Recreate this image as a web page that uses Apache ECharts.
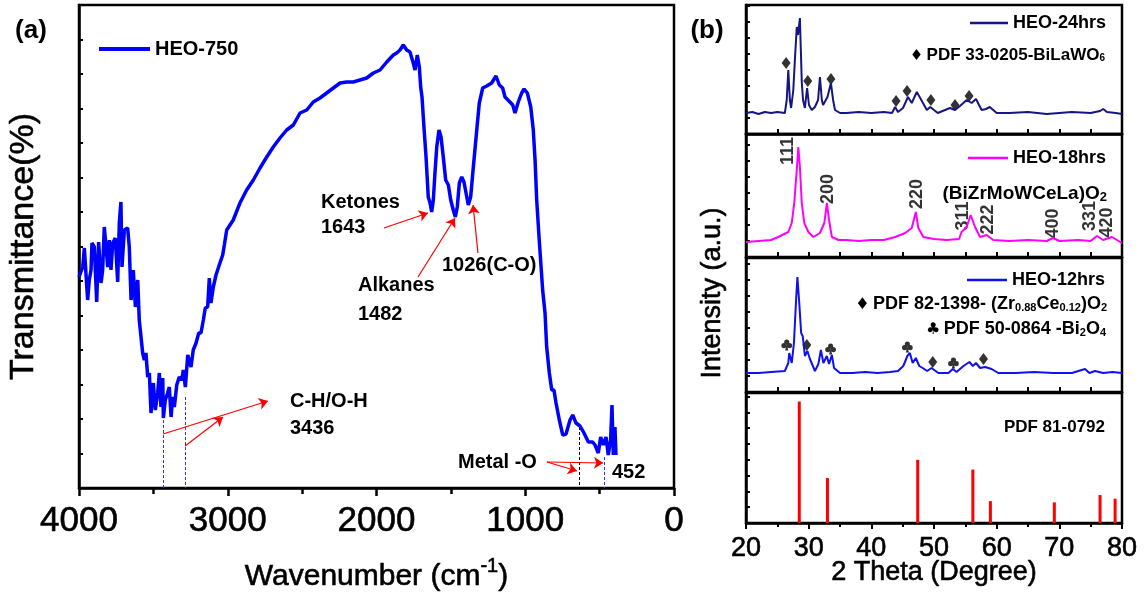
<!DOCTYPE html>
<html><head><meta charset="utf-8">
<script src="https://cdn.jsdelivr.net/npm/echarts@6/dist/echarts.min.js"></script>
<style>html,body{margin:0;padding:0;background:#fff}#c{width:1147px;height:596px}</style>
</head><body><div id="c"></div>
<script>
// ---------- Panel (a): FTIR ----------
const ftirWavenumber = [4000,3993,3975,3964,3953,3942,3931,3919,3913,3897,3881,3868,3852,3841,3830,3818,3807,3796,3785,3773,3756,3740,3729,3718,3711,3695,3673,3662,3650,3635,3621,3605,3595,3583,3572,3561,3550,3538,3527,3516,3500,3487,3471,3460,3449,3437,3433,3420,3404,3393,3381,3370,3359,3343,3326,3308,3299,3285,3269,3247,3232,3213,3195,3180,3164,3151,3135,3124,3113,3097,3079,3057,3034,3023,3007,2963,2918,2873,2828,2783,2738,2694,2649,2604,2559,2514,2469,2425,2380,2335,2290,2245,2200,2156,2111,2066,2021,1976,1931,1887,1864,1842,1820,1797,1775,1753,1741,1726,1712,1703,1694,1681,1667,1652,1640,1629,1618,1607,1595,1580,1566,1551,1535,1517,1501,1484,1470,1457,1443,1427,1412,1398,1383,1367,1349,1326,1309,1286,1259,1226,1197,1174,1152,1136,1103,1084,1069,1047,1024,1008,986,963,946,934,923,906,883,867,856,838,822,807,793,771,748,726,699,681,659,632,605,576,547,531,509,493,475,457,442,426,417,408,397,390];
const ftirTransmittance = [211,211,221,240,238,188,208,218,245,241,186,246,205,218,261,241,221,248,218,245,250,206,265,286,221,258,260,241,188,218,181,208,168,151,135,128,135,111,115,75,105,78,95,115,81,110,70,88,95,101,71,91,81,103,111,108,118,101,133,121,138,145,155,155,168,180,181,210,185,201,213,223,233,243,258,268,285,298,308,320,331,341,350,358,363,375,378,386,390,395,400,405,406,406,408,410,415,418,426,433,435,438,443,438,436,425,418,433,421,401,391,361,331,291,285,276,288,315,341,358,351,331,308,303,288,278,271,281,305,311,306,295,283,291,321,358,385,400,402,405,412,403,400,391,386,383,375,386,395,399,395,381,358,328,288,248,198,175,141,115,98,98,85,68,53,54,68,73,65,62,55,46,46,43,35,51,43,51,33,48,83,33,61,33];

// ---------- Panel (b): XRD ----------
const heo24Theta = [20,21,22,23,24,25,26.2,26.5,26.75,27.0,27.2,27.55,27.8,28.1,28.3,28.6,28.9,29.1,29.4,29.75,30.05,30.5,31.0,31.5,31.8,32.1,32.3,33.0,33.55,33.9,34.2,35,36,38,40,42,43.3,43.8,44.25,45.05,45.85,46.45,47.25,47.8,48.85,49.4,50.6,52.55,53.35,54.15,55.2,56.0,56.7,57.6,58.3,58.9,60.0,62,65,68,70,72,75,76.5,77,77.6,79,80];
const heo24Int = [21,22,20,22,21,22,21,34,64,34,26,44,74,107,99,116,52,34,26,46,29,24,27,34,57,34,29,37,51,34,24,21,21,22,21,22,21,27,22,26,37,31,42,36,24,27,21,26,24,28,34,31,35,24,25,27,21,21,22,20,21,22,21,23,25,22,21,20];
const biLaWO6Theta = [26.4,29.85,33.55,43.95,45.7,49.5,53.35,55.6];
const biLaWO6Y = [71,53,55,33,43,34,29,38];

const heo18Theta = [20,22,24,25.15,26.75,27.3,27.7,28.1,28.35,28.6,28.9,29.3,29.95,30.75,31.8,32.5,32.9,33.25,33.7,34.75,36,38,40,42,43.8,45.4,46.45,47.1,47.5,48.3,50,52,54,54.4,55.2,55.85,56.55,57.35,58.4,59.45,62,65,68,69.0,70,73,75,76.0,77,78.4,80];
const heo18Int = [15,16,17,20,25,34,54,87,110,90,54,34,25,20,24,34,54,37,20,17,17,16,17,17,20,24,29,45,29,20,18,17,18,25,30,42,30,20,22,17,16,17,16,19,16,17,16,21,17,20,14];
const hklLabels = ['111','200','220','311','222','400','331','420'];
const hklTheta = [26.7,33.1,47.25,54.6,58.6,69.0,74.9,77.6];
const hklY = [106,68,63,41,37.5,33.5,41,34.5];

const heo12Theta = [20,22,24,26.2,26.75,26.9,27.3,27.65,28.0,28.2,28.5,28.8,29.05,29.4,29.8,30.2,31.0,31.55,31.95,32.35,32.9,33.25,33.7,34.05,35.0,37,39,41,43,44.25,45.1,45.75,46.15,46.6,47.1,47.65,48.2,48.9,49.6,50.7,52.3,53.0,53.6,54.7,55.65,56.2,56.7,57.35,58.15,59.2,60.25,63,66,69,72,74.1,74.8,75.7,77,78.5,80];
const heo12Int = [19,19,20,21,29,39,29,49,93,115,89,59,56,36,41,33,21,28,42,29,36,28,37,24,19,19,20,19,20,21,26,36,39,29,34,26,24,21,24,19,19,23,20,26,30,26,29,24,25,23,19,19,20,19,19,23,19,21,19,20,19];
const zrCeTheta = [29.7,49.8,57.9];
const zrCeY = [47,30,33];
const bi2O4Theta = [26.5,33.5,45.75,53.1];
const bi2O4Y = [47,43,45,29];

const pdfTheta = [28.5,33.0,47.4,56.2,59.0,69.2,76.5,78.9];
const pdfInt = [100,37,52,44,18,17,23,20];

// ---------- helpers ----------
const FONT = 'Liberation Sans, Arial, Helvetica, sans-serif';
const zip = (a, b) => a.map((v, i) => [v, b[i]]);
const clubPath = 'path://M28,28A22,22 0 1,0 72,28A22,22 0 1,0 28,28Z M4,58A22,22 0 1,0 48,58A22,22 0 1,0 4,58Z M52,58A22,22 0 1,0 96,58A22,22 0 1,0 52,58Z M50,50L36,100L64,100Z';
const AL = {show: true, onZero: false, lineStyle: {color: '#000', width: 2.5}};
const THICK = {textBorderColor: '#000', textBorderWidth: 0.6};

const gridDefs = [
  {left: 79, top: 5, width: 595, height: 483},
  {left: 746, top: 5, width: 376, height: 129},
  {left: 746, top: 134, width: 376, height: 123},
  {left: 746, top: 258, width: 376, height: 134},
  {left: 746, top: 393, width: 376, height: 130}
];
const xrdMax = [129, 123, 134, 107];

function xrdX(i, last) {
  return {
    gridIndex: i, type: 'value', min: 20, max: 80, interval: last ? 10 : 5,
    axisLine: AL,
    axisTick: {show: true, inside: !last, length: last ? 6 : 5, lineStyle: {color: '#000', width: 2}},
    minorTick: {show: !!last, splitNumber: 2, length: 4, lineStyle: {color: '#000', width: 2}},
    axisLabel: Object.assign({show: !!last, margin: 12, fontSize: 27, color: '#000', fontFamily: FONT, formatter: v => String(v)}, THICK),
    splitLine: {show: false}, minorSplitLine: {show: false},
    name: last ? '2 Theta (Degree)' : '', nameLocation: 'middle', nameGap: 36, nameMoveOverlap: false,
    nameTextStyle: Object.assign({fontSize: 27, color: '#000', fontFamily: FONT}, THICK)
  };
}
function xrdY(i, max, interval) {
  return {
    gridIndex: i, type: 'value', min: 0, max: max, interval: interval,
    axisLine: AL,
    axisTick: {show: true, inside: true, length: 4, lineStyle: {color: '#000', width: 2}},
    axisLabel: {show: false}, splitLine: {show: false}
  };
}

function txt(x, y, text, size, opts) {
  return Object.assign({
    type: 'text', x: x, y: y, silent: true,
    style: Object.assign({text: text, fill: '#000', fontSize: size, fontFamily: FONT, fontWeight: 'bold', align: 'left', verticalAlign: 'middle'}, (opts && opts.style) || {})
  }, (opts && opts.el) || {});
}
function richTxt(x, y, text, size, subSize) {
  return {
    type: 'text', x: x, y: y, silent: true,
    style: {
      text: text, align: 'right', verticalAlign: 'middle',
      rich: {
        t: {fontSize: size, fontFamily: FONT, fontWeight: 'bold', fill: '#000', lineHeight: size + 4, verticalAlign: 'bottom'},
        s: {fontSize: subSize, fontFamily: FONT, fontWeight: 'bold', fill: '#000', lineHeight: subSize + 1, verticalAlign: 'bottom'},
        d: {fontSize: size - 2, fontFamily: 'DejaVu Sans', fill: '#000', lineHeight: size + 4, verticalAlign: 'bottom'}
      }
    }
  };
}

const arrow = (a, b) => [{coord: a, symbol: 'none'}, {coord: b, symbol: 'arrow', symbolSize: 9}];
const dashed = (a, b, color) => [{coord: a, symbol: 'none', lineStyle: {color: color, type: [3, 2], width: 1}}, {coord: b, symbol: 'none'}];

function legendAt(name, left, top, w, h, size, lh) {
  return {
    data: [name], left: left, top: top, padding: 0, orient: 'horizontal',
    icon: 'rect', itemWidth: w, itemHeight: h, selectedMode: false,
    textStyle: {fontSize: size, fontWeight: 'bold', fontFamily: FONT, color: '#000', lineHeight: lh}
  };
}

const option = {
  backgroundColor: '#fff',
  animation: false,
  grid: gridDefs.map(g => Object.assign({show: true, borderColor: '#000', borderWidth: 2.5, backgroundColor: 'transparent', containLabel: false, outerBoundsMode: 'none'}, g)),
  xAxis: [
    {
      gridIndex: 0, type: 'value', min: 0, max: 4000, interval: 1000, inverse: true,
      axisLine: AL,
      axisTick: {show: true, inside: false, length: 8, lineStyle: {color: '#000', width: 2.5}},
      minorTick: {show: true, splitNumber: 2, length: 6, lineStyle: {color: '#000', width: 2.5}},
      axisLabel: Object.assign({show: true, margin: 16, fontSize: 35, color: '#000', fontFamily: FONT, formatter: v => String(v)}, THICK),
      splitLine: {show: false}, minorSplitLine: {show: false},
      name: '{a|Wavenumber (cm}{s|-1}{a|)}', nameLocation: 'middle', nameGap: 68, nameMoveOverlap: false,
      nameTextStyle: {rich: {
        a: Object.assign({fontSize: 30, fontFamily: FONT, color: '#000', lineHeight: 36, verticalAlign: 'bottom'}, THICK),
        s: Object.assign({fontSize: 20, fontFamily: FONT, color: '#000', lineHeight: 22, verticalAlign: 'top'}, THICK)
      }}
    },
    xrdX(1, false), xrdX(2, false), xrdX(3, false), xrdX(4, true)
  ],
  yAxis: [
    {
      gridIndex: 0, type: 'value', min: 0, max: 483, interval: 34.5,
      axisLine: AL,
      axisTick: {show: true, inside: true, length: 4, lineStyle: {color: '#000', width: 2}},
      axisLabel: {show: false}, splitLine: {show: false},
      name: 'Transmittance(%)', nameLocation: 'middle', nameGap: 38, nameMoveOverlap: false,
      nameTextStyle: Object.assign({fontSize: 34, color: '#000', fontFamily: FONT}, THICK)
    },
    xrdY(1, xrdMax[0], 16), xrdY(2, xrdMax[1], 16), xrdY(3, xrdMax[2], 16), xrdY(4, xrdMax[3], 13)
  ],
  legend: [
    legendAt('HEO-750', 99, 37, 51, 4, 20, 24),
    legendAt('HEO-24hrs', 970, 12, 38, 2.5, 18, 22),
    legendAt('HEO-18hrs', 968, 147, 40, 2.5, 18, 22),
    legendAt('HEO-12hrs', 967, 269, 40, 2.5, 18, 22)
  ],
  series: [
    {
      name: 'HEO-750', type: 'line', xAxisIndex: 0, yAxisIndex: 0,
      data: zip(ftirWavenumber, ftirTransmittance),
      symbol: 'none', lineStyle: {color: '#0000FF', width: 3.5}, itemStyle: {color: '#0000FF'},
      z: 3,
      markLine: {
        silent: true, animation: false, label: {show: false},
        lineStyle: {color: '#FF0000', width: 1.2, type: 'solid'},
        emphasis: {disabled: true},
        data: [
          arrow([1950, 260], [1654, 275]),
          arrow([1721, 211], [1472, 270]),
          arrow([1318, 235], [1351, 283]),
          arrow([3435, 54], [2729, 87]),
          arrow([3287, 42], [3032, 71]),
          arrow([854, 26], [652, 17]),
          arrow([854, 26], [477, 25])
        ]
      }
    },
    {
      name: 'guides', type: 'line', xAxisIndex: 0, yAxisIndex: 0, data: [], symbol: 'none',
      markLine: {
        silent: true, animation: false, label: {show: false}, emphasis: {disabled: true},
        data: [
          dashed([3436, 68], [3436, 0], '#3030FF'),
          dashed([3287, 91], [3287, 0], '#3030FF'),
          dashed([637, 61], [637, 0], '#000000'),
          dashed([471, 31], [471, 0], '#3030FF')
        ]
      }
    },
    {
      name: 'HEO-24hrs', type: 'line', xAxisIndex: 1, yAxisIndex: 1,
      data: zip(heo24Theta, heo24Int), symbol: 'none',
      lineStyle: {color: '#161680', width: 2}, itemStyle: {color: '#161680'}
    },
    {
      name: 'BiLaWO6', type: 'scatter', xAxisIndex: 1, yAxisIndex: 1,
      data: zip(biLaWO6Theta, biLaWO6Y), symbol: 'diamond', symbolSize: [9, 12],
      itemStyle: {color: '#000'}, silent: true
    },
    {
      name: 'HEO-18hrs', type: 'line', xAxisIndex: 2, yAxisIndex: 2,
      data: zip(heo18Theta, heo18Int), symbol: 'none',
      lineStyle: {color: '#FF00FF', width: 2}, itemStyle: {color: '#FF00FF'}
    },
    {
      name: 'hkl', type: 'scatter', xAxisIndex: 2, yAxisIndex: 2,
      data: hklTheta.map((t, i) => ({name: hklLabels[i], value: [t, hklY[i]]})),
      symbolSize: 1, itemStyle: {color: 'transparent'}, silent: true,
      label: {show: true, position: 'inside', rotate: 90, formatter: '{b}', fontSize: 18, fontWeight: 'bold', fontFamily: FONT, color: '#000'}
    },
    {
      name: 'HEO-12hrs', type: 'line', xAxisIndex: 3, yAxisIndex: 3,
      data: zip(heo12Theta, heo12Int), symbol: 'none',
      lineStyle: {color: '#1010F0', width: 2}, itemStyle: {color: '#1010F0'}
    },
    {
      name: 'ZrCeO2', type: 'scatter', xAxisIndex: 3, yAxisIndex: 3,
      data: zip(zrCeTheta, zrCeY), symbol: 'diamond', symbolSize: [9, 12],
      itemStyle: {color: '#000'}, silent: true
    },
    {
      name: 'Bi2O4', type: 'scatter', xAxisIndex: 3, yAxisIndex: 3,
      data: zip(bi2O4Theta, bi2O4Y), symbol: clubPath, symbolSize: 11, symbolKeepAspect: true,
      itemStyle: {color: '#000'}, silent: true
    },
    {
      name: 'PDF 81-0792', type: 'bar', xAxisIndex: 4, yAxisIndex: 4,
      data: zip(pdfTheta, pdfInt), barWidth: 3,
      itemStyle: {color: '#FF0000'}, silent: true
    }
  ],
  graphic: {elements: [
    txt(31, 31, '(a)', 26, {style: {align: 'center'}}),
    txt(707, 31, '(b)', 26, {style: {align: 'center'}}),
    txt(713, 293, 'Intensity (a.u.)', 27, {style: Object.assign({align: 'center', fontWeight: 'normal', stroke: '#000', lineWidth: 0.6}), el: {rotation: Math.PI / 2}}),
    txt(321, 202, 'Ketones', 20),
    txt(321, 227, '1643', 20),
    txt(358, 285, 'Alkanes', 20),
    txt(358, 314, '1482', 20),
    txt(442, 265, '1026(C-O)', 20),
    txt(290, 401, 'C-H/O-H', 20),
    txt(290, 428, '3436', 20),
    txt(458, 462, 'Metal -O', 20),
    txt(612, 472, '452', 20),
    richTxt(1105, 53, '{d|\u2666} {t|PDF 33-0205-BiLaWO}{s|6}', 17, 10),
    richTxt(1107, 192, '{t|(BiZrMoWCeLa)O}{s|2}', 19, 13),
    richTxt(1107, 302, '{d|\u2666} {t|PDF 82-1398- (Zr}{s|0.88}{t|Ce}{s|0.12}{t|)O}{s|2}', 18, 11),
    richTxt(1106, 327, '{d|\u2663} {t|PDF 50-0864 -Bi}{s|2}{t|O}{s|4}', 18, 11),
    txt(1105, 427, 'PDF 81-0792', 17, {style: {align: 'right'}})
  ]}
};

const chart = echarts.init(document.getElementById('c'), null, {renderer: 'canvas'});
chart.setOption(option);
</script>
</body></html>
